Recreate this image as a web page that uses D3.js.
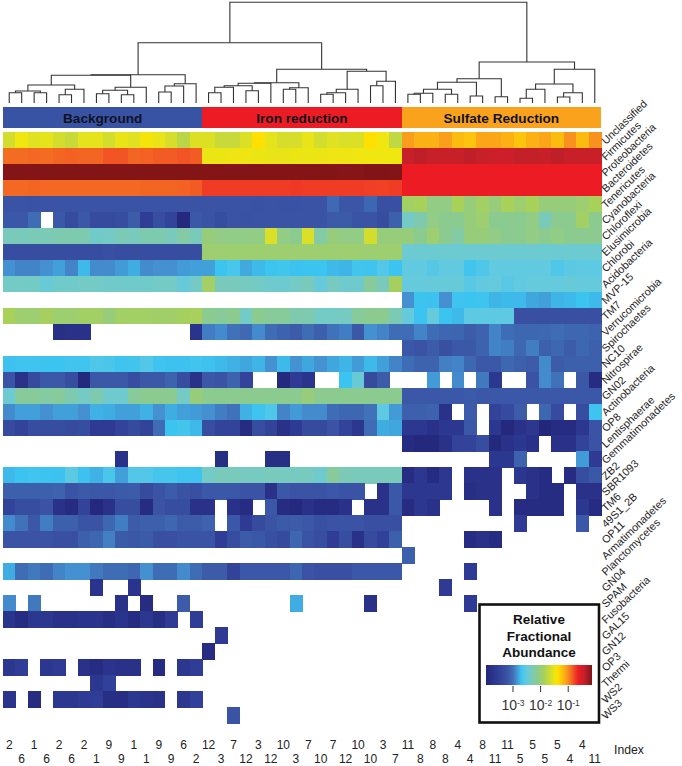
<!DOCTYPE html>
<html><head><meta charset="utf-8">
<script src="https://cdn.jsdelivr.net/npm/d3@7"></script>
<style>html,body{margin:0;padding:0;background:#fff}svg{display:block}text{font-family:"Liberation Sans",Arial,sans-serif}</style>
</head><body><svg id="c" width="682" height="766"></svg>
<script>
// log10(relative fractional abundance); _ = not detected
const _ = null;
const taxa = ["Unclassified","Firmicutes","Proteobacteria","Bacteroidetes","Tenericutes","Cyanobacteria","Chloroflexi","Elusimicrobia","Chlorobi","Acidobacteria","MVP-15","TM7","Verrucomicrobia","Spirochaetes","NC10","Nitrospirae","GN02","Actinobacteria","OP8","Lentisphaerae","Gemmatimonadetes","ZB2","SBR1093","TM6","49S1_2B","OP11","Armatimonadetes","Planctomycetes","GN04","SPAM","Fusobacteria","GAL15","GN12","OP3","Thermi","WS2","WS3"];
const indexTop = [2,1,2,2,9,1,9,6,12,7,3,10,7,7,10,3,11,8,4,8,11,5,5,4];
const indexBottom = [6,6,6,1,9,1,9,2,3,12,12,3,10,12,10,7,8,8,4,11,5,5,4,11];
const groupNames = ["Background","Iron reduction","Sulfate Reduction"];
const groupFirst = [0,16,32];
const groupLast = [15,31,47];
const legendTitle = ["Relative","Fractional","Abundance"];
const legendExponents = [-3,-2,-1];

const Unclassified=[-1.62,-1.46,-1.55,-1.52,-1.62,-1.68,-1.52,-1.52,-1.62,-1.5,-1.55,-1.42,-1.5,-1.6,-1.75,-1.57, -1.57,-1.68,-1.68,-1.57,-1.35,-1.52,-1.6,-1.6,-1.5,-1.62,-1.55,-1.58,-1.57,-1.35,-1.46,-1.72, -1.04,-1.13,-1.13,-1.05,-1.18,-1.22,-1.08,-1.08,-1.13,-1.22,-1.13,-1.08,-1.18,-1,-1.18,-1];
const Firmicutes=[-.87,-.87,-.86,-.87,-.85,-.84,-.85,-.85,-.8,-.8,-.85,-.84,-.82,-.82,-.8,-.82, -1.48,-1.48,-1.47,-1.47,-1.48,-1.5,-1.5,-1.48,-1.48,-1.48,-1.47,-1.47,-1.46,-1.46,-1.46,-1.46, -.42,-.38,-.42,-.42,-.42,-.38,-.42,-.45,-.45,-.4,-.4,-.42,-.38,-.42,-.42,-.42];
const Proteobacteria=[-.14,-.14,-.14,-.14,-.14,-.14,-.14,-.14,-.14,-.14,-.14,-.14,-.14,-.14,-.14,-.14, -.14,-.14,-.14,-.14,-.14,-.14,-.14,-.14,-.14,-.14,-.14,-.15,-.15,-.13,-.13,-.14, -.62,-.62,-.62,-.62,-.62,-.62,-.62,-.62,-.62,-.62,-.62,-.62,-.62,-.62,-.62,-.62];
const Bacteroidetes=[-.86,-.86,-.85,-.86,-.86,-.86,-.86,-.86,-.86,-.86,-.86,-.85,-.85,-.85,-.84,-.82, -.72,-.72,-.72,-.72,-.72,-.72,-.72,-.71,-.72,-.72,-.72,-.72,-.72,-.73,-.74,-.72, -.62,-.62,-.62,-.62,-.62,-.62,-.62,-.62,-.62,-.62,-.62,-.62,-.62,-.62,-.62,-.62];
const Tenericutes=[-3.2,-3.2,-3.22,-3.2,-3.2,-3.2,-3.2,-3.2,-3.2,-3.2,-3.2,-3.2,-3.2,-3.2,-3.2,-3.2, -3.2,-3.2,-3.2,-3.2,-3.22,-3.2,-3.22,-3.22,-3.2,-3.2,-3.02,-3.18,-3.18,-3.05,-3.25,-3.25, -1.9,-1.85,-2.05,-2.05,-1.85,-2,-1.9,-2,-1.85,-1.95,-1.85,-2,-2,-2,-1.95,-1.85];
const Cyanobacteria=[-3.17,-3.17,-3,_,-3.17,-3.35,-3.17,-3.35,-3.35,-3.3,-3.13,-3.55,-3.3,-3.45,-3.9,-3.17, -3.2,-3.3,-3.2,-3.22,-3.2,-3.2,-3.2,-3.2,-3.2,-3.2,-3.15,-3.15,-3.2,-3.2,-3.3,-3.1, -2.35,-2.25,-2.05,-2.1,-2.1,-2,-1.95,-2.1,-2.1,-2.1,-2.05,-2.3,-2.1,-2.1,-1.9,-2.1];
const Chloroflexi=[-2.3,-2.3,-2.28,-2.28,-2.25,-2.25,-2.25,-2.38,-2.35,-2.28,-2.3,-2.25,-2.25,-2.3,-2.2,-2.3, -2,-2.05,-2.05,-2.05,-2.05,-1.58,-2.05,-2.1,-1.58,-2.2,-2,-2.05,-2.05,-1.62,-2,-2, -2,-2.1,-1.95,-2.1,-2.2,-2,-2,-2.05,-2.1,-2.1,-2.05,-2.1,-2.05,-2.1,-2.1,-2.1];
const Elusimicrobia=[-3.3,-3.3,-3.3,-3.3,-3.3,-3.3,-3.3,-3.3,-3.25,-3.3,-3.3,-3.3,-3.3,-3.3,-3.3,-3.3, -1.95,-1.95,-1.95,-1.95,-1.95,-1.95,-1.95,-1.95,-1.95,-1.95,-1.95,-1.95,-1.95,-1.95,-1.95,-1.95, -2.42,-2.42,-2.42,-2.42,-2.42,-2.42,-2.42,-2.42,-2.42,-2.42,-2.42,-2.42,-2.42,-2.42,-2.42,-2.42];
const Chlorobi=[-2.85,-2.9,-2.9,-2.85,-2.8,-2.9,-2.72,-2.87,-2.87,-2.82,-2.76,-2.87,-2.85,-2.85,-2.82,-2.8, -2.8,-2.69,-2.63,-2.77,-2.72,-2.69,-2.66,-2.7,-2.69,-2.69,-2.72,-2.74,-2.66,-2.68,-2.58,-2.69, -2.5,-2.5,-2.56,-2.5,-2.5,-2.66,-2.6,-2.5,-2.5,-2.5,-2.5,-2.5,-2.6,-2.53,-2.52,-2.52];
const Acidobacteria=[-2.35,-2.35,-2.35,-2.45,-2.38,-2.38,-2.35,-2.35,-2.38,-2.38,-2.38,-2.38,-2.35,-2.35,-2.47,-2.35, -1.9,-2.3,-2.3,-2.32,-2.35,-2.4,-2.42,-2.35,-2.3,-2.47,-2.33,-2.4,-2.4,-2.15,-2.3,-1.88, -2.48,-2.48,-2.47,-2.46,-2.46,-2.55,-2.5,-2.48,-2.55,-2.5,-2.48,-2.48,-2.48,-2.45,-2.48,-2.48];
const MVP15=[_,_,_,_,_,_,_,_,_,_,_,_,_,_,_,_, _,_,_,_,_,_,_,_,_,_,_,_,_,_,_,_, -2.85,-2.69,-2.7,-2.85,-2.68,-2.69,-2.68,-2.74,-2.72,-2.72,-2.78,-2.8,-2.74,-2.72,-2.69,-2.72];
const TM7=[-1.85,-1.95,-1.95,-1.88,-1.95,-1.95,-1.9,-1.9,-2,-1.9,-1.9,-1.9,-1.92,-1.92,-1.88,-1.86, -2.1,-2.15,-2.1,-2.35,-2.1,-2.15,-2.15,-2.25,-2.25,-2.35,-2.35,-2.33,-2.15,-2.1,-2.1,-2.28, -2.48,-2.69,-2.48,-2.69,-2.72,-2.52,-2.52,-2.52,-2.52,-3.25,-3.25,-3.25,-3.25,-3.25,-3.25,-3.25];
const Verrucomicrobia=[_,_,_,_,-3.78,-3.75,-3.75,_,_,_,_,_,_,_,_,-3.7, -2.93,-2.87,-2.98,-3.02,-2.87,-3,-3.08,-3.13,-3,-3.1,-2.98,-2.93,-3.17,-2.85,-2.9,-3, -3,-2.9,-3,-3.05,-3.06,-3.13,-3.08,-2.9,-3,-3.05,-3.05,-3.03,-3,-3.05,-3.05,-3.08];
const Spirochaetes=[_,_,_,_,_,_,_,_,_,_,_,_,_,_,_,_, _,_,_,_,_,_,_,_,_,_,_,_,_,_,_,_, -3.17,-3.2,-3.13,-3.25,-3.17,-3.17,-3.08,-2.9,-2.93,-3.05,-2.93,-3.1,-3.05,-3.13,-3.05,-3.1];
const NC10=[-2.7,-2.68,-2.68,-2.69,-2.69,-2.66,-2.67,-2.6,-2.62,-2.68,-2.66,-2.58,-2.68,-2.7,-2.7,-2.66, -2.7,-2.72,-2.75,-2.78,-2.74,-2.85,-2.72,-2.84,-2.78,-2.84,-2.78,-2.74,-2.82,-2.72,-2.8,-2.9, -3,-3.08,-3.08,-2.92,-2.9,-3.05,-3.17,-3.17,-3.05,-3.1,-3.13,-2.87,-3.13,-3.1,-3.1,-3.1];
const Nitrospirae=[-3.2,-3.75,-3.35,-3.17,-3.17,-3.3,-3.9,-3.17,-3.17,-3.17,-3.3,-3.17,-3.17,-3.08,-3.3,-3.75, -3.17,-3.2,-3.08,-3.45,_,_,-3.9,-3.6,-3.7,_,_,-2.69,-2.45,-3.35,-3.13,_, _,_,-2.82,_,-2.87,_,-2.95,-3.65,_,_,-3.2,-2.87,-2.98,_,-3.17,-3.85];
const GN02=[-2.42,-2.15,-2.15,-2.18,-2.15,-2.25,-2.35,-2.25,-2.4,-2.4,-2.15,-2.1,-2.1,-2.1,-2.35,-2, -2.1,-2.1,-2.1,-2.1,-2.1,-2.1,-2.1,-2.1,-2,-2.1,-2.1,-2.1,-2.1,-2.1,-2.1,-2.1, -3.17,-3.17,-3.17,-3.17,-3.17,-3.15,-3.17,-3.17,-3.17,-3.17,-3.17,-3.17,-3.17,-3.17,-3.17,-3.17];
const Actinobacteria=[-2.87,-2.8,-2.8,-2.85,-2.8,-2.8,-2.85,-2.75,-2.76,-2.8,-2.8,-2.75,-2.85,-2.76,-2.8,-2.82, -2.85,-2.93,-2.98,-2.75,-2.68,-2.6,-2.9,-2.82,-2.87,-2.87,-3,-3.05,-3.05,-2.98,-2.52,-2.82, -3.1,-3.1,-3.08,-3.75,_,-3.13,_,-3.45,-3.33,-3.13,_,-3.05,-3.33,_,-3.3,-2.68];
const OP8=[-3.35,-3.45,-3.3,-3.3,-3.3,-3.35,-3.3,-3.6,-3.6,-3.45,-3.35,-3.45,-3,-2.69,-2.65,-2.72, -3.3,-3.45,-3.45,-3.85,-3.3,-3.45,-3.75,-3.6,-3.35,-3.35,-3.2,-3.45,-3.65,-3,-2.76,-2.78, -3.65,-3.65,-3.75,-3.65,-3.65,-3.17,_,-3.65,-3.9,-3.75,-3.65,-3.95,-3.85,-3.85,-3.65,-3.2];
const Lentisphaerae=[_,_,_,_,_,_,_,_,_,_,_,_,_,_,_,_, _,_,_,_,_,_,_,_,_,_,_,_,_,_,_,_, -3.85,-3.9,-3.9,-3.75,-3.45,-3.45,-3.3,-3.9,-3.75,-3.65,-3.75,_,-3.75,-3.75,-3.45,-3.2];
const Gemmatimonadetes=[_,_,_,_,_,_,_,_,_,-3.75,_,_,_,_,_,_, _,-3.8,_,_,_,-3.8,-3.8,_,_,_,_,_,_,_,_,_, _,_,_,_,_,_,_,-3.65,-3.65,-3.08,_,_,_,_,-2.82,-3.6];
const ZB2=[-2.72,-2.69,-2.67,-2.69,-2.7,-2.53,-2.7,-2.75,-2.62,-2.8,-2.58,-2.58,-2.64,-2.64,-2.68,-2.68, -2.35,-2.3,-2.3,-2.33,-2.33,-2.3,-2.33,-2.32,-2.32,-2.4,-2.15,-2.28,-2.3,-2.3,-2.3,-2.3, -3.85,-3.65,-3.85,-3.65,_,-3.75,-3.75,-3.75,_,-3.65,-3.75,-3.85,_,-3.85,-3.3,-3.17];
const SBR1093=[-3.1,-3.1,-3.1,-3.1,-3.08,-3.2,-3.15,-3.17,-3.17,-3.15,-3.13,-3.35,-3.2,-3.13,-3.2,-3.25, -3.17,-3.17,-3.17,-3.2,-3.2,-3.75,-3.17,-3.2,-3.2,-3.2,-3.17,-3.2,-3.2,_,-3.75,-3.17, -3.65,-3.65,-3.65,-3.65,_,-3.8,-3.75,-3.75,_,_,-3.75,-3.85,-3.85,_,-3.75,-3.75];
const TM6=[-3.45,-3.3,-3.3,-3.2,-3.75,-3.85,-3.45,-3.9,-3.75,-3.3,-3.3,-3.85,-3.2,-3.3,-3.3,-3.75, -3.75,_,-3.75,-3.85,_,-3.17,-3.85,-3.9,-3.75,-3.85,-3.85,-3.75,_,-3.75,-3.75,-3.17, -3.85,-3.65,-3.75,_,_,_,_,-3.75,_,-3.85,-3.85,-3.85,-3.85,_,-3.65,-3.85];
const S49_2B=[-2.87,-2.98,-3.17,-2.93,-3.1,-3.1,-3.2,-3.2,-3.05,-2.93,-3.13,-3.1,-3.1,-3.05,-3.13,-3.13, -3.08,_,-3.17,-3.6,-3.35,-3.2,-3.15,-3.13,-3.17,-3.25,-3.2,-3.2,-3.2,-3.25,-3.25,-3.25, _,_,_,_,_,_,_,_,_,-3.6,_,_,_,_,-3.17,_];
const OP11=[-3.2,-3.2,-3.2,-3.2,-3.25,-3.25,-3.1,-3.05,-2.92,-3.15,-3.17,-3.15,-3.25,-3.25,-3.2,-3.2, -3.2,-3.55,-3.3,-3.15,-3.17,-3.25,-3.35,-3.05,-3.2,-3.3,-3.55,-3.3,-3.75,-3.35,-3.5,-3.1, _,_,_,_,_,-3.85,-3.75,-3.85,_,_,_,_,_,_,_,_];
const Armatimonadetes=[_,_,_,_,_,_,_,_,_,_,_,_,_,_,_,_, _,_,_,_,_,_,_,_,_,_,_,_,_,_,_,_, -3.1,_,_,_,_,_,_,_,_,_,_,_,_,_,_,_];
const Planctomycetes=[-2.76,-3,-2.95,-3,-2.9,-2.85,-2.85,-2.95,-3,-3,-3.05,-2.85,-3,-3,-2.87,-3, -3.13,-3.13,-3.45,-3.17,-3.17,-3.17,-3.17,-3.05,-3.2,-3.25,-3.25,-3.25,-3.17,-3.17,-3.17,-3.17, _,_,_,_,_,-3.6,_,_,_,_,_,_,_,_,_,_];
const GN04=[_,_,_,_,_,_,_,-3.7,_,_,-3.7,_,_,_,_,_, _,_,_,_,_,_,_,_,_,_,_,_,_,_,_,_, _,_,_,-3.6,_,_,_,_,_,_,_,_,_,_,_,_];
const SPAM=[-2.87,_,-2.95,_,_,_,_,_,_,-3.75,_,-3.85,_,_,-3.13,_, _,_,_,_,_,_,_,-2.76,_,_,_,_,_,-3.75,_,_, _,_,_,_,_,-3.6,_,_,_,_,_,_,_,_,_,_];
const Fusobacteria=[-3.7,-3.85,-3.65,-3.65,-3.75,-3.75,-3.7,-3.7,-3.8,-3.7,-3.85,-3.65,-3.8,-3.6,_,-3.55, _,_,_,_,_,_,_,_,_,_,_,_,_,_,_,_, _,_,_,_,_,_,_,_,_,_,_,_,_,_,_,_];
const GAL15=[_,_,_,_,_,_,_,_,_,_,_,_,_,_,_,_, _,-3.6,_,_,_,_,_,_,_,_,_,_,_,_,_,_, _,_,_,_,_,_,_,_,_,_,_,_,_,_,_,_];
const GN12=[_,_,_,_,_,_,_,_,_,_,_,_,_,_,_,_, -3.85,_,_,_,_,_,_,_,_,_,_,_,_,_,_,_, _,_,_,_,_,_,_,_,_,_,_,_,_,_,_,_];
const OP3=[-3.65,-3.55,_,-3.65,-3.6,_,-3.75,-3.85,-3.7,-3.75,-3.75,_,-3.85,_,-3.65,-3.55, _,_,_,_,_,_,_,_,_,_,_,_,_,_,_,_, _,_,_,_,_,_,_,_,_,_,_,_,_,_,_,_];
const Thermi=[_,_,_,_,_,_,_,-3.65,-3.5,_,_,_,_,_,_,_, _,_,_,_,_,_,_,_,_,_,_,_,_,_,_,_, _,_,_,_,_,_,_,_,_,_,_,_,_,_,_,_];
const WS2=[-3.7,_,-3.85,_,-3.65,-3.65,-3.6,-3.55,-3.8,-3.8,-3.65,-3.7,-3.75,_,-3.65,-3.5, _,_,_,_,_,_,_,_,_,_,_,_,_,_,_,_, _,_,_,_,_,_,_,_,_,_,_,_,_,_,_,_];
const WS3=[_,_,_,_,_,_,_,_,_,_,_,_,_,_,_,_, _,_,-3.2,_,_,_,_,_,_,_,_,_,_,_,_,_, _,_,_,_,_,_,_,_,_,_,_,_,_,_,_,_];
const rows=[Unclassified,Firmicutes,Proteobacteria,Bacteroidetes,Tenericutes,Cyanobacteria,Chloroflexi,Elusimicrobia,Chlorobi,Acidobacteria,MVP15,TM7,Verrucomicrobia,Spirochaetes,NC10,Nitrospirae,GN02,Actinobacteria,OP8,Lentisphaerae,Gemmatimonadetes,ZB2,SBR1093,TM6,S49_2B,OP11,Armatimonadetes,Planctomycetes,GN04,SPAM,Fusobacteria,GAL15,GN12,OP3,Thermi,WS2,WS3];

// dendrogram: [merge height, left, right]; numbers are sample columns
const treeBackground=[28.3,[27.7,[18,[12,[10.3,0,1],[10.3,2,3]],[13.7,[8.3,4,5],6]],[15.7,[12.7,[9.3,7,8],[8.3,9,10]],11]],[19.3,[17,[11,12,13],14],15]];
const treeIron=[33.7,[20.3,[19.7,[17.3,[15.7,[10.3,16,17],18],[12.3,19,20]],21],[15.3,[13.7,22,23],24]],[31.7,[13.7,[10.3,[8.7,25,26],27],28],[21.7,[17.3,29,30],31]]];
const treeSulfate=[41,[24.3,[20.7,[13.7,[9.7,[8.7,32,33],34],[8.7,35,36]],[7,37,38]],[6.3,39,40]],[33.7,[19,[13.7,[4.7,41,42],43],[10.3,[6,44,45],46]],47]];
const treeRoot=[100.7,[60.3,treeBackground,treeIron],treeSulfate];

// colour scale over log10 abundance
const colorValues=[-3.96,-3.6,-3.2,-3.0,-2.85,-2.69,-2.5,-2.35,-2.1,-1.85,-1.46,-1.35,-1.04,-.85,-.62,-.4,-.12];
const colorStops=["#222678","#2e3a94","#3a53a4","#3f6db5","#4490d0","#3cc4f0","#62cae0","#74cac4","#8ccb90","#a8d15a","#f0e610","#ffe000","#f99d1c","#f36523","#ed1c24","#c4202a","#7f1416"];
const groupColors=["#3953a4","#ed1c24","#faa21b"];

const svg=d3.select("#c");
const x=d3.scaleBand().domain(d3.range(48)).range([3,601]);
const y=d3.scaleBand().domain(taxa).range([132,723]);
const color=d3.scaleLinear().domain(colorValues).range(colorStops).interpolate(d3.interpolateRgb);

// heat map
const cells=rows.flatMap((r,i)=>r.map((v,j)=>({t:taxa[i],j,v}))).filter(d=>d.v!==null);
svg.append("g").attr("shape-rendering","crispEdges").selectAll("rect").data(cells).join("rect")
  .attr("x",d=>x(d.j)).attr("y",d=>y(d.t)).attr("width",x.bandwidth()+.5).attr("height",y.bandwidth()+.5).attr("fill",d=>color(d.v));

// group bars
const g=svg.append("g");
groupNames.forEach((n,i)=>{
  const x0=x(groupFirst[i]),x1=x(groupLast[i])+x.bandwidth();
  g.append("rect").attr("x",x0).attr("y",107).attr("width",x1-x0).attr("height",21).attr("fill",groupColors[i]).attr("shape-rendering","crispEdges");
  g.append("text").attr("x",(x0+x1)/2).attr("y",123).attr("text-anchor","middle").attr("font-weight","bold").attr("font-size",13.6).attr("fill","#10121f").text(n);
});

// dendrogram
const root=d3.hierarchy(treeRoot,d=>Array.isArray(d)?d.slice(1):null);
const h=d3.scaleLinear().domain([0,100.7]).range([103,2.3]);
root.eachAfter(n=>{
  if(n.children){n.px=d3.mean(n.children,c=>c.px);n.py=h(n.data[0]);}
  else{n.px=x(n.data)+x.bandwidth()/2;n.py=h(0);}
});
svg.append("g").attr("fill","none").attr("stroke","#333").attr("stroke-width",1.1).selectAll("path")
  .data(root.descendants().filter(n=>n.children)).join("path")
  .attr("d",n=>{const [a,b]=n.children;return `M${a.px},${a.py}V${n.py}H${b.px}V${b.py}`;});

// taxon labels
svg.append("g").selectAll("text").data(taxa).join("text")
  .attr("transform",d=>`translate(606,${y(d)+y.bandwidth()/2+5}) rotate(-44)`)
  .attr("font-size",10.8).attr("fill","#222").text(d=>d);

// index labels
const idx=svg.append("g").attr("font-size",12).attr("fill","#222").attr("text-anchor","middle");
indexTop.forEach((v,i)=>idx.append("text").attr("x",x(i*2)+x.bandwidth()/2).attr("y",749).text(v));
indexBottom.forEach((v,i)=>idx.append("text").attr("x",x(i*2+1)+x.bandwidth()/2).attr("y",763).text(v));
svg.append("text").attr("x",614).attr("y",754).attr("font-size",12.2).attr("fill","#222").text("Index");

// legend
const lg=svg.append("g");
lg.append("rect").attr("x",479.5).attr("y",604.5).attr("width",119.5).attr("height",118).attr("fill","#fff").attr("stroke","#111").attr("stroke-width",2.6);
legendTitle.forEach((t,i)=>lg.append("text").attr("x",539).attr("y",624+i*16.7).attr("text-anchor","middle").attr("font-weight","bold").attr("font-size",13.5).attr("fill","#111").text(t));
const grad=svg.append("defs").append("linearGradient").attr("id","lg");
const lx=d3.scaleLinear().domain([-3.96,-.12]).range([486,592]);
colorValues.forEach(v=>grad.append("stop").attr("offset",(lx(v)-486)/106).attr("stop-color",color(v)));
lg.append("rect").attr("x",486).attr("y",665).attr("width",106).attr("height",20).attr("fill","url(#lg)");
const axis=d3.axisBottom(lx).tickValues(legendExponents).tickSize(6).tickSizeOuter(0).tickFormat("");
const ag=lg.append("g").attr("transform","translate(0,686)").call(axis);
ag.select(".domain").remove();
ag.selectAll("line").attr("stroke","#333").attr("stroke-width",1);
ag.selectAll(".tick").each(function(d){
  const t=d3.select(this).select("text").attr("y",24).attr("dy",null).attr("font-size",14).attr("font-family",'"Liberation Sans"').attr("fill","#333");
  t.append("tspan").text("10");
  t.append("tspan").attr("font-size",8.5).attr("dy",-4).text("-"+Math.abs(d));
});
</script></body></html>
